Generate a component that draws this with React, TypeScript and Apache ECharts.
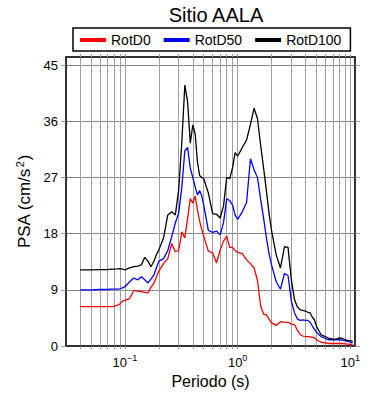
import React, { useEffect, useRef } from "react";
import * as echarts from "echarts";

const title = "Sitio AALA";
const seriesNames = ["RotD0", "RotD50", "RotD100"];
const seriesColors = ["#ff0000", "#0000ff", "#000000"];

const periods = [
  0.04, 0.05, 0.06, 0.07, 0.075, 0.08, 0.085, 0.09, 0.095,
  0.1, 0.11, 0.12, 0.13, 0.14, 0.15, 0.16, 0.17, 0.18, 0.19, 0.2,
  0.22, 0.24, 0.26, 0.28, 0.3, 0.32, 0.34, 0.36, 0.38, 0.4, 0.42, 0.44, 0.46, 0.48, 0.5,
  0.55, 0.6, 0.65, 0.7, 0.75, 0.8, 0.85, 0.9, 0.95, 1.0,
  1.1, 1.2, 1.3, 1.4, 1.5, 1.6, 1.7, 1.8, 1.9, 2.0,
  2.2, 2.4, 2.6, 2.8, 3.0, 3.2, 3.4, 3.6, 3.8, 4.0, 4.2, 4.4, 4.6, 4.8, 5.0,
  5.5, 6.0, 6.5, 7.0, 7.5, 8.0, 8.5, 9.0, 9.5, 10.0, 10.5,
];

const rotD0 = [
  6.3, 6.3, 6.3, 6.3, 6.3, 6.35, 6.5, 6.7, 7.2,
  7.3, 7.6, 8.9, 8.8, 8.7, 8.6, 8.5, 9.4, 10.0, 11.0, 12.0,
  13.2, 14.0, 16.4, 15.1, 15.3, 18.3, 17.3, 20.5, 23.6, 22.9, 24.0, 21.8, 20.0, 18.7, 17.6,
  15.2, 14.9, 13.3, 15.4, 16.8, 17.6, 15.8, 15.8, 15.3, 15.0,
  14.8, 13.8, 13.2, 12.5, 10.5, 6.4, 5.1, 5.0, 4.3, 3.7,
  3.3, 3.9, 3.8, 3.8, 3.5, 3.4, 2.5, 1.8, 1.6, 1.5, 1.5, 1.45, 1.4, 1.3, 1.0,
  0.6, 0.5, 0.4, 0.4, 0.4, 0.4, 0.4, 0.35, 0.3, 0.25, 0.2,
];

const rotD50 = [
  9.0, 9.0, 9.05, 9.05, 9.1, 9.1, 9.1, 9.15, 9.3,
  9.5, 10.3, 10.9, 10.6, 11.1, 10.6, 10.1, 10.7, 11.3, 12.5, 13.6,
  14.0, 15.3, 17.5, 19.7, 21.3, 25.5, 31.3, 31.8, 28.5, 27.0, 25.5, 24.2, 24.9, 24.1, 22.6,
  18.5, 18.2, 18.4, 17.8, 19.8, 23.6, 23.3, 22.6, 21.0, 20.3,
  21.5, 23.0, 30.0, 28.2, 27.0, 23.5, 20.5, 17.3, 14.8, 13.0,
  10.3, 9.1, 11.6, 11.3, 7.2, 5.3, 4.3, 4.1, 4.2, 4.1, 4.1, 3.8, 3.2, 2.7, 2.2,
  1.5, 1.2, 1.0, 1.0, 1.0, 1.0, 0.95, 0.85, 0.75, 0.6, 0.5,
];

const rotD100 = [
  12.2, 12.2, 12.25, 12.25, 12.3, 12.3, 12.35, 12.4, 12.3,
  12.2, 12.5, 12.7, 12.8, 13.0, 14.2, 13.6, 12.7, 13.5, 14.6, 15.4,
  17.3, 21.0, 21.5, 21.0, 25.0, 32.8, 41.8, 39.1, 32.5, 35.4, 34.0, 29.5, 27.3, 27.0, 26.8,
  24.5, 21.2, 21.1, 20.5, 22.5, 27.0, 26.8, 28.5, 31.0, 30.4,
  31.8, 33.0, 35.5, 38.1, 36.4, 32.2, 28.5, 24.9, 21.2, 18.5,
  14.6, 12.5, 15.9, 15.8, 10.5, 7.4, 6.2, 5.8, 5.7, 5.6, 5.4, 5.3, 4.6, 4.2, 3.2,
  1.8, 1.5, 1.2, 1.1, 1.1, 1.3, 1.2, 1.0, 0.9, 0.85, 0.75,
];

const yTicks = [0, 9, 18, 27, 36, 45];
const xDecades = [0.1, 1, 10];
const xMinorTicks = [
  0.04, 0.05, 0.06, 0.07, 0.08, 0.09,
  0.1, 0.2, 0.3, 0.4, 0.5, 0.6, 0.7, 0.8, 0.9,
  1, 2, 3, 4, 5, 6, 7, 8, 9, 10,
];
const xMin = 0.03;
const xMax = 11;
const yMin = 0;
const yMax = 46.3;

const FONT = "Liberation Sans, Arial, Helvetica, sans-serif";

export default function App() {
  const ref = useRef<HTMLDivElement>(null);
  useEffect(() => {
    if (!ref.current) return;
    const chart = echarts.init(ref.current, null, { renderer: "svg" });
    const lg = (v: number) => Math.log10(v);
    const allSeries = [rotD0, rotD50, rotD100];
    const supMap: Record<string, string> = { "-1": "−1", "0": "0", "1": "1" };
    const xAxisBase = {
      type: "value" as const,
      min: lg(xMin),
      max: lg(xMax),
    };
    const option: any = {
      animation: false,
      backgroundColor: "#ffffff",
      textStyle: { fontFamily: FONT },
      title: {
        text: title,
        left: 211,
        textAlign: "center",
        top: 0,
        textStyle: { fontFamily: FONT, fontSize: 20, fontWeight: "normal", color: "#000" },
      },
      legend: {
        left: 73,
        top: 28,
        orient: "horizontal",
        data: seriesNames,
        icon: "rect",
        itemWidth: 26,
        itemHeight: 4,
        itemGap: 13,
        padding: [5, 9, 4, 7],
        borderColor: "#000",
        borderWidth: 1.5,
        textStyle: { fontFamily: FONT, fontSize: 14, color: "#000", padding: [0, 0, 0, 0] },
      },
      grid: { left: 66, right: 35, top: 57, bottom: 54, outerBoundsMode: "none" },
      xAxis: [
        {
          ...xAxisBase,
          position: "bottom",
          name: "Periodo (s)",
          nameLocation: "middle",
          nameGap: 26,
          nameTextStyle: { fontFamily: FONT, fontSize: 16, color: "#000" },
          axisLine: { show: true, onZero: false, lineStyle: { color: "#333", width: 2 } },
          axisTick: {
            show: true,
            inside: false,
            length: 3,
            customValues: xMinorTicks.map(lg),
            lineStyle: { color: "#999", width: 1 },
          },
          axisLabel: {
            customValues: xDecades.map(lg),
            margin: 7,
            formatter: (v: number) => {
              const e = String(Math.round(v));
              return "{b|10}{s|" + (supMap[e] ?? e) + "}";
            },
            rich: {
              b: { fontFamily: FONT, fontSize: 13, color: "#000", lineHeight: 18 },
              s: { fontFamily: FONT, fontSize: 9, color: "#000", lineHeight: 9, verticalAlign: "top" },
            },
          },
          splitLine: { show: true, lineStyle: { color: "#a0a0a0", width: 1 } },
        },
        {
          ...xAxisBase,
          position: "top",
          axisLine: { show: true, onZero: false, lineStyle: { color: "#333", width: 2 } },
          axisTick: {
            show: true,
            inside: false,
            length: 3,
            customValues: xMinorTicks.map(lg),
            lineStyle: { color: "#999", width: 1 },
          },
          axisLabel: { show: false },
          splitLine: { show: false },
        },
      ],
      yAxis: [
        {
          type: "value",
          min: yMin,
          max: yMax,
          position: "left",
          name: "{n|PSA (cm/s}{s|2}{n|)}",
          nameLocation: "middle",
          nameGap: 29,
          nameRotate: 90,
          nameTextStyle: {
            fontFamily: FONT,
            fontSize: 17,
            color: "#000",
            rich: {
              n: { fontFamily: FONT, fontSize: 17, color: "#000", lineHeight: 20 },
              s: { fontFamily: FONT, fontSize: 11, color: "#000", lineHeight: 11, verticalAlign: "top", padding: [0, 1, 0, 1] },
            },
          },
          axisLine: { show: true, onZero: false, lineStyle: { color: "#333", width: 2 } },
          axisTick: {
            show: true,
            inside: false,
            length: 5,
            customValues: yTicks,
            lineStyle: { color: "#999", width: 1 },
          },
          axisLabel: {
            customValues: yTicks,
            margin: 8,
            fontFamily: FONT,
            fontSize: 13,
            color: "#000",
          },
          splitLine: { show: true, lineStyle: { color: "#888", width: 1 } },
        },
        {
          type: "value",
          min: yMin,
          max: yMax,
          position: "right",
          axisLine: { show: true, onZero: false, lineStyle: { color: "#333", width: 2 } },
          axisTick: {
            show: true,
            inside: false,
            length: 5,
            customValues: yTicks,
            lineStyle: { color: "#999", width: 1 },
          },
          axisLabel: { show: false },
          splitLine: { show: false },
        },
      ],
      series: allSeries.map((vals, i) => ({
        name: seriesNames[i],
        type: "line",
        xAxisIndex: 0,
        yAxisIndex: 0,
        showSymbol: false,
        symbol: "none",
        data: periods.map((p, j) => [lg(p), vals[j]]),
        lineStyle: { color: seriesColors[i], width: 1.3 },
        itemStyle: { color: seriesColors[i] },
        z: 3 + i,
      })),
    };
    chart.setOption(option);
    return () => chart.dispose();
  }, []);
  return (
    <div
      ref={ref}
      style={{ position: "fixed", left: 0, top: 0, width: 390, height: 400 }}
    />
  );
}
